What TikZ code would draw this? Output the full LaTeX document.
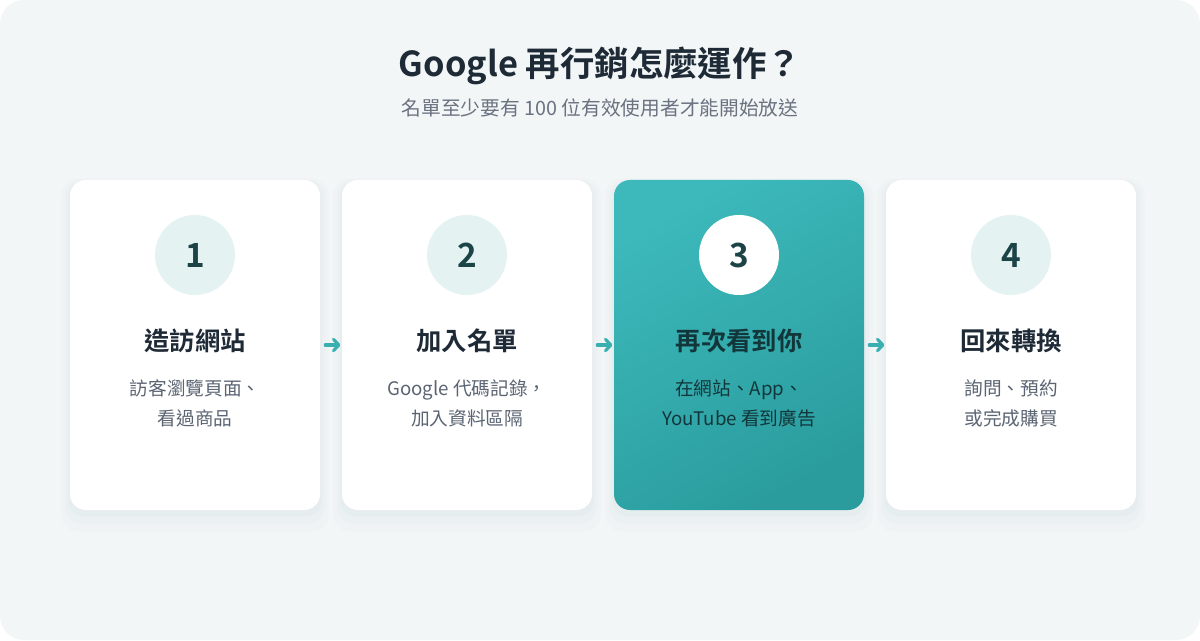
\documentclass[tikz,border=0pt]{standalone}
\usepackage{fontspec}
\setmainfont{Noto Sans CJK TC}[BoldFont={Noto Sans CJK TC Bold}]
\usepackage{tikz}
\usetikzlibrary{arrows.meta,shadows}

\definecolor{bgcol}{HTML}{F2F6F7}
\definecolor{inkdark}{HTML}{1F2A37}
\definecolor{inkgrey}{HTML}{6B7280}
\definecolor{descgrey}{HTML}{5A6472}
\definecolor{numink}{HTML}{1C4447}
\definecolor{numfill}{HTML}{E4F3F2}
\definecolor{tealA}{HTML}{3DB9BB}
\definecolor{tealB}{HTML}{2A9C9E}
\definecolor{tealink}{HTML}{12363A}
\definecolor{arrowteal}{HTML}{3AAFB0}
\definecolor{shade}{HTML}{9FB2B5}

\tikzset{
  card/.style={rounded corners=12pt, minimum width=187.5pt, minimum height=247.5pt,
    inner sep=0pt,
    general shadow={fill=shade, opacity=0.05, shadow yshift=-3pt, shadow scale=1.015},
    general shadow={fill=shade, opacity=0.04, shadow yshift=-5pt, shadow scale=1.04},
    general shadow={fill=shade, opacity=0.03, shadow yshift=-7pt, shadow scale=1.07}},
  numcircle/.style={circle, minimum size=60pt, inner sep=0pt, text=numink,
    font=\fontsize{25}{25}\selectfont\bfseries},
  heading/.style={font=\fontsize{19}{19}\selectfont\bfseries, text=inkdark},
  desc/.style={align=center, font=\fontsize{14}{22.5}\selectfont, text=descgrey},
  flow/.style={arrowteal, line width=2.3pt, line cap=round,
    -{Straight Barb[length=4pt, width=8.5pt, round]},
    shorten <=3.75pt, shorten >=1pt}
}

\begin{document}
\begin{tikzpicture}[x=0.75pt,y=0.75pt]
\useasboundingbox (0,0) rectangle (1200,640);
\fill[bgcol, rounded corners=18pt] (0,0) rectangle (1200,640);

% title
\node (title) at (600,574) [font=\fontsize{25.8}{25.8}\selectfont\bfseries, text=inkdark] {Google 再行銷怎麼運作？};
\node (subtitle) at (600,532) [font=\fontsize{14.8}{14.8}\selectfont, text=inkgrey] {名單至少要有 100 位有效使用者才能開始放送};

% cards
\node (card1) at (195,295) [card, fill=white] {};
\node (card2) at (467,295) [card, fill=white] {};
\node (card3) at (739,295) [card, left color=tealA, right color=tealB, shading angle=30] {};
\node (card4) at (1011,295) [card, fill=white] {};

% step numbers
\node (num1) at (195,385) [numcircle, fill=numfill] {1};
\node (num2) at (467,385) [numcircle, fill=numfill] {2};
\node (num3) at (739,385) [numcircle, fill=white] {3};
\node (num4) at (1011,385) [numcircle, fill=numfill] {4};

% headings
\node (head1) at (195,299) [heading] {造訪網站};
\node (head2) at (467,299) [heading] {加入名單};
\node (head3) at (739,299) [heading, text=tealink] {再次看到你};
\node (head4) at (1011,299) [heading] {回來轉換};

% descriptions
\node (desc1) at (195,237) [desc] {訪客瀏覽頁面、\\看過商品};
\node (desc2) at (467,237) [desc] {Google 代碼記錄，\\加入資料區隔};
\node (desc3) at (739,237) [desc, text=tealink] {在網站、App、\\YouTube 看到廣告};
\node (desc4) at (1011,237) [desc] {詢問、預約\\或完成購買};

% arrows
\draw[flow] (card1.east) -- (card2.west);
\draw[flow] (card2.east) -- (card3.west);
\draw[flow] (card3.east) -- (card4.west);
\end{tikzpicture}
\end{document}
